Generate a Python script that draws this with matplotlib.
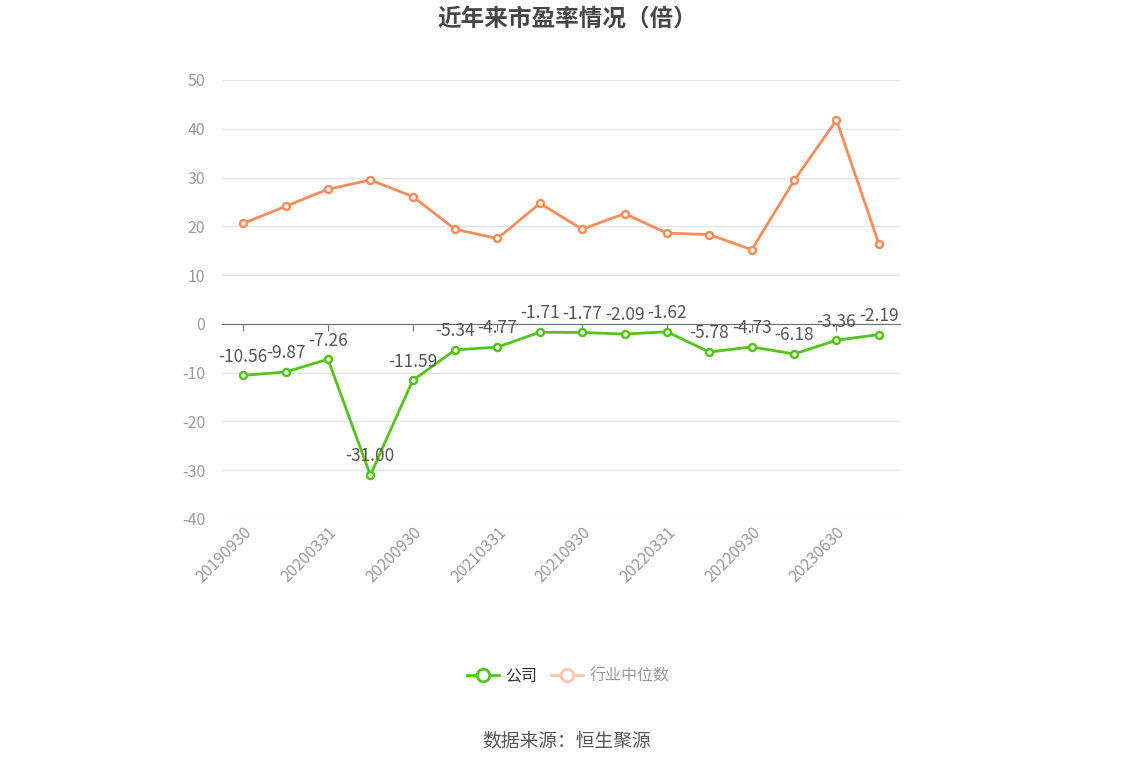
import matplotlib
matplotlib.use('Agg')
import matplotlib.pyplot as plt
import matplotlib.transforms as mtransforms
from matplotlib.lines import Line2D

plt.rcParams['font.family'] = ['Noto Sans CJK SC', 'DejaVu Sans']
plt.rcParams['axes.unicode_minus'] = False

dates = ['20190930', '20191231', '20200331', '20200630', '20200930', '20201231',
         '20210331', '20210630', '20210930', '20211231', '20220331', '20220630',
         '20220930', '20230331', '20230630', '20230930']
company = [-10.56, -9.87, -7.26, -31.00, -11.59, -5.34, -4.77, -1.71,
           -1.77, -2.09, -1.62, -5.78, -4.73, -6.18, -3.36, -2.19]
industry = [20.6, 24.1, 27.6, 29.5, 26.1, 19.4, 17.5, 24.7,
            19.4, 22.6, 18.6, 18.3, 15.2, 29.4, 41.8, 16.4]
yticks = [-40, -30, -20, -10, 0, 10, 20, 30, 40, 50]

green = '#52c41a'
orange = '#fa8c5a'

fig = plt.figure(figsize=(11.34, 7.66), dpi=100)
ax = fig.add_axes([0.1958, 0.3225, 0.5979, 0.5731])

x = list(range(len(dates)))
ax.plot(x, industry, color=orange, lw=2, marker='o', ms=5, mfc='white',
        mec=orange, mew=1.8, zorder=3)
ax.plot(x, company, color=green, lw=2, marker='o', ms=5, mfc='white',
        mec=green, mew=1.8, zorder=4)

for xi, v in zip(x, company):
    ax.annotate('%.2f' % v, (xi, v), xytext=(0, 7), textcoords='offset points',
                ha='center', va='bottom', fontsize=12.5, color='#555555', zorder=5)

ax.set_xlim(-0.5, len(dates) - 0.5)
ax.set_ylim(-40, 50)
ax.set_yticks(yticks)
ax.yaxis.grid(True, color='#e0e6f1', lw=1)
ax.set_axisbelow(True)
ax.tick_params(axis='y', length=0, labelsize=11.5, labelcolor='#999999', pad=12)

for s in ['top', 'right', 'left']:
    ax.spines[s].set_visible(False)
ax.spines['bottom'].set_position(('data', 0))
ax.spines['bottom'].set_color('#6e7079')
ax.set_xticks(x[::2])
ax.tick_params(axis='x', length=5, color='#6e7079', labelbottom=False)

trans = mtransforms.blended_transform_factory(ax.transData, ax.transAxes)
for xi in x[::2]:
    ax.text(xi + 0.0, -0.012, dates[xi], transform=trans, rotation=45,
            ha='right', va='top', fontsize=11.5, color='#999999',
            rotation_mode='anchor')

fig.text(0.5, 0.976, '近年来市盈率情况（倍）', ha='center', va='center',
         fontsize=17, fontweight='bold', color='#464646')

handles = [Line2D([], [], color=green, lw=2, marker='o', ms=9, mfc='white',
                  mec=green, mew=2),
           Line2D([], [], color='#fdc4ab', lw=2, marker='o', ms=9, mfc='white',
                  mec='#fdc4ab', mew=2)]
leg = fig.legend(handles, ['公司', '行业中位数'], loc='center',
                 bbox_to_anchor=(0.501, 0.118), ncol=2, frameon=False,
                 fontsize=11.5, handlelength=2.0, columnspacing=0.9,
                 handletextpad=0.4)
leg.get_texts()[0].set_color('#333333')
leg.get_texts()[1].set_color('#999999')

fig.text(0.5, 0.033, '数据来源：恒生聚源', ha='center', va='center',
         fontsize=13.5, color='#555555')

fig.savefig('out.png', dpi=100)
